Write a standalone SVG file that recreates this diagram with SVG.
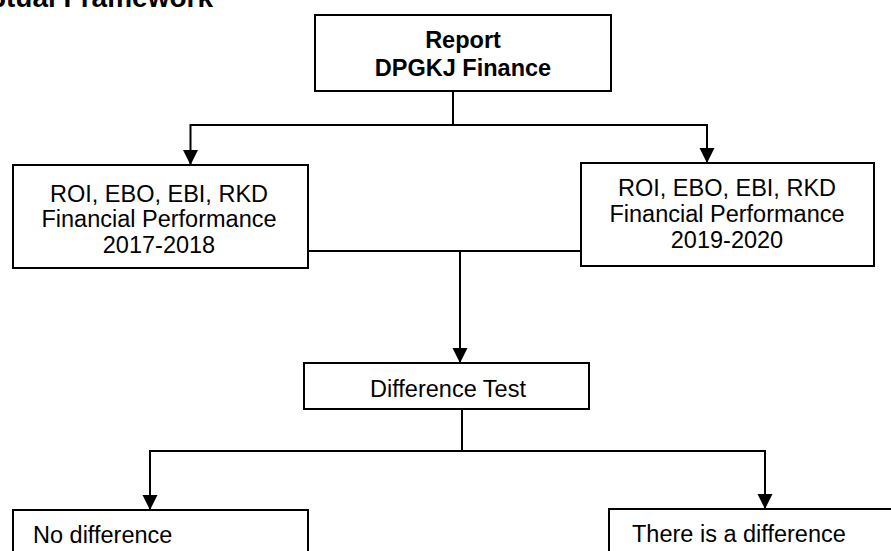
<svg xmlns="http://www.w3.org/2000/svg" width="891" height="551" viewBox="0 0 891 551">
  <style>
    .box { fill: #ffffff; stroke: #000000; stroke-width: 2; }
    .t { font-family: "Liberation Sans", Arial, sans-serif; font-size: 23.5px; fill: #000000; }
    .b { font-weight: bold; }
    .c { text-anchor: middle; }
    .ln { fill: none; stroke: #000000; stroke-width: 2; }
  </style>
  <defs>
    <marker id="arr" markerUnits="userSpaceOnUse" markerWidth="16" markerHeight="16" viewBox="0 0 16 16" refX="15" refY="8" orient="auto">
      <path d="M0,0.5 L15,8 L0,15.5 Z" fill="#000000"/>
    </marker>
  </defs>
  <rect width="891" height="551" fill="#ffffff"/>

  <text id="title" class="t b" x="213" y="7" text-anchor="end" style="font-size:28px">Conceptual Framework</text>

  <g id="connectors">
    <polyline class="ln" points="453,91 453,125"/>
    <polyline class="ln" points="190,125 707,125"/>
    <polyline class="ln" points="190.5,124 190.5,165" marker-end="url(#arr)"/>
    <polyline class="ln" points="707,124 707,163" marker-end="url(#arr)"/>
    <polyline class="ln" points="308,251 582,251"/>
    <polyline class="ln" points="460,250 460,363" marker-end="url(#arr)"/>
    <polyline class="ln" points="462,409 462,451"/>
    <polyline class="ln" points="149,451 766,451"/>
    <polyline class="ln" points="150,450 150,510" marker-end="url(#arr)"/>
    <polyline class="ln" points="765,450 765,509" marker-end="url(#arr)"/>
  </g>

  <g id="report">
    <rect class="box" x="315" y="15" width="296" height="76"/>
    <text class="t b c" x="463" y="48">Report</text>
    <text class="t b c" x="463" y="76">DPGKJ Finance</text>
  </g>

  <g id="perf2017">
    <rect class="box" x="13" y="165" width="295" height="103"/>
    <text class="t c" x="159" y="202">ROI, EBO, EBI, RKD</text>
    <text class="t c" x="159" y="227">Financial Performance</text>
    <text class="t c" x="159" y="253">2017-2018</text>
  </g>

  <g id="perf2019">
    <rect class="box" x="581" y="163" width="293" height="103"/>
    <text class="t c" x="727" y="196">ROI, EBO, EBI, RKD</text>
    <text class="t c" x="727" y="222">Financial Performance</text>
    <text class="t c" x="727" y="248">2019-2020</text>
  </g>

  <g id="difftest">
    <rect class="box" x="304" y="363" width="285" height="46"/>
    <text class="t c" x="448" y="397">Difference Test</text>
  </g>

  <g id="nodiff">
    <rect class="box" x="13" y="510" width="295" height="60"/>
    <text class="t" x="33" y="543">No difference</text>
  </g>

  <g id="isdiff">
    <rect class="box" x="609" y="509" width="300" height="60"/>
    <text class="t" x="632" y="542">There is a difference</text>
  </g>
</svg>
